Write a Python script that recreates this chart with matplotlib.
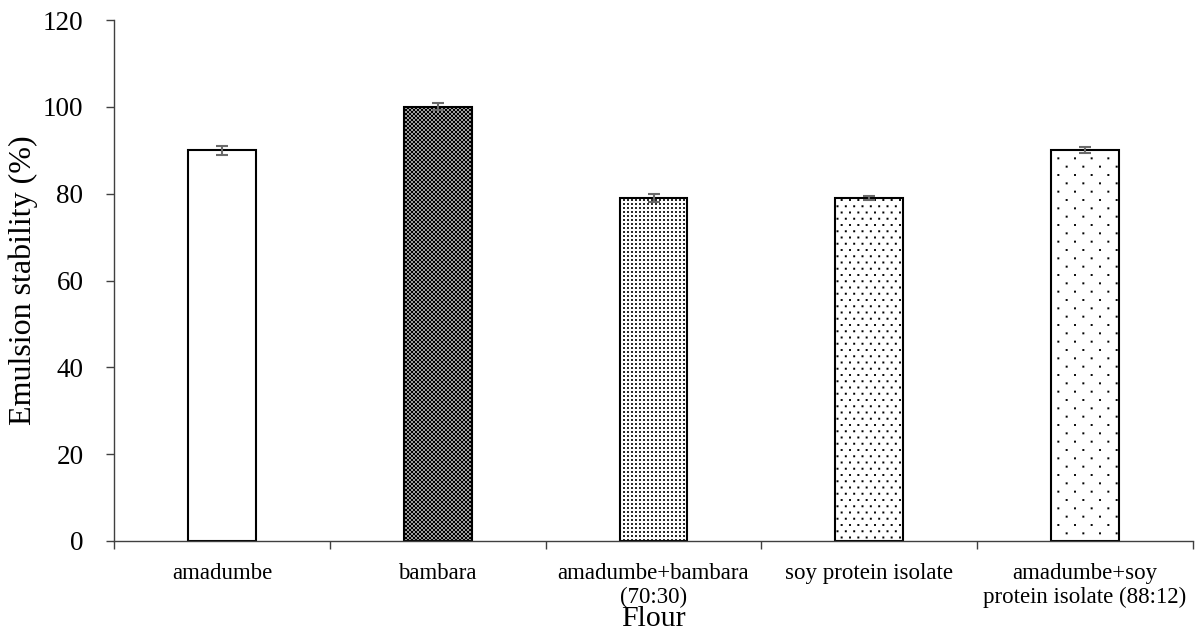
import warnings
warnings.filterwarnings("ignore")
import matplotlib
matplotlib.use("Agg")
import matplotlib.pyplot as plt
import matplotlib.hatch as mhatch
from matplotlib.path import Path
import numpy as np

categories = ["amadumbe", "bambara", "amadumbe+bambara\n(70:30)",
              "soy protein isolate", "amadumbe+soy\nprotein isolate (88:12)"]
values = [90, 100, 79, 79, 90]
errors = [1.0, 0.8, 1.0, 0.5, 0.7]
hatches = ["", "*", "O", "o", "."]
yticks = [0, 20, 40, 60, 80, 100, 120]

# Dot-lattice hatch patterns (unit cell = 1 inch): cols, rows, staggered, half-size
_LATTICE = {
    "*": (25, 50, True, 0.0115),
    "O": (25, 25, False, 0.009),
    "o": (12, 16, True, 0.0095),
    ".": (6, 12, True, 0.0095),
}


class LatticeDots(mhatch.HatchPatternBase):
    def __init__(self, hatch, density):
        self.spec = _LATTICE.get(hatch)
        if self.spec is None:
            self.num_vertices = 0
            return
        nc, nr, stag, hs = self.spec
        self.points = []
        for r in range(nr + 1):
            y = r / nr
            off = (0.5 / nc) if (stag and r % 2 == 1) else 0.0
            for c in range(nc + 1):
                x = c / nc + off
                self.points.append((x, y))
        self.num_vertices = len(self.points) * 5

    def set_vertices_and_codes(self, vertices, codes):
        hs = self.spec[3]
        sq = np.array([[-hs, -hs], [hs, -hs], [hs, hs], [-hs, hs], [-hs, -hs]])
        sc = [Path.MOVETO, Path.LINETO, Path.LINETO, Path.LINETO, Path.CLOSEPOLY]
        for i, (x, y) in enumerate(self.points):
            vertices[i * 5:(i + 1) * 5] = sq + [x, y]
            codes[i * 5:(i + 1) * 5] = sc


mhatch._hatch_types = [LatticeDots]

plt.rcParams['font.family'] = ['Liberation Serif', 'DejaVu Serif']
plt.rcParams['hatch.linewidth'] = 0.05

fig = plt.figure(figsize=(12.04, 6.34), dpi=100)
ax = fig.add_axes([114/1204, 1 - 541/634, (1193-114)/1204, (541-20)/634])

x = np.arange(len(categories))
ax.bar(x, values, width=0.315, color="white", edgecolor="black",
       linewidth=1.5, hatch=hatches, zorder=2)
ax.errorbar(x, values, yerr=errors, fmt="none", ecolor="#6a6a6a",
            elinewidth=1.5, capsize=4.5, capthick=1.5, zorder=3)

ax.set_xlim(-0.5, len(categories) - 0.5)
ax.set_ylim(0, 120)
ax.set_yticks(yticks)
ax.set_xticks(np.arange(len(categories) + 1) - 0.5, minor=False)
ax.set_xticklabels([])
ax.set_xticks(x, minor=True)
ax.set_xticklabels(categories, minor=True, fontsize=16.5, linespacing=1.15)
ax.tick_params(axis="x", which="minor", length=0, pad=16)
ax.tick_params(axis="x", which="major", length=6, width=1, direction="out",
               color="#404040")
ax.tick_params(axis="y", length=6, width=1, labelsize=19.5, pad=16,
               color="#404040")

for s in ["top", "right"]:
    ax.spines[s].set_visible(False)
for s in ["left", "bottom"]:
    ax.spines[s].set_linewidth(1)
    ax.spines[s].set_color("#404040")

ax.set_ylabel("Emulsion stability (%)", fontsize=23)
ax.yaxis.set_label_coords(-(114 - 23) / (1193 - 114), 0.5)
ax.yaxis.label.set_va("center")
ax.set_xlabel("Flour", fontsize=21.5)
ax.xaxis.set_label_coords(0.5, -(626 - 541) / (541 - 20))
ax.xaxis.label.set_va("baseline")

fig.savefig("out.png", dpi=100)
